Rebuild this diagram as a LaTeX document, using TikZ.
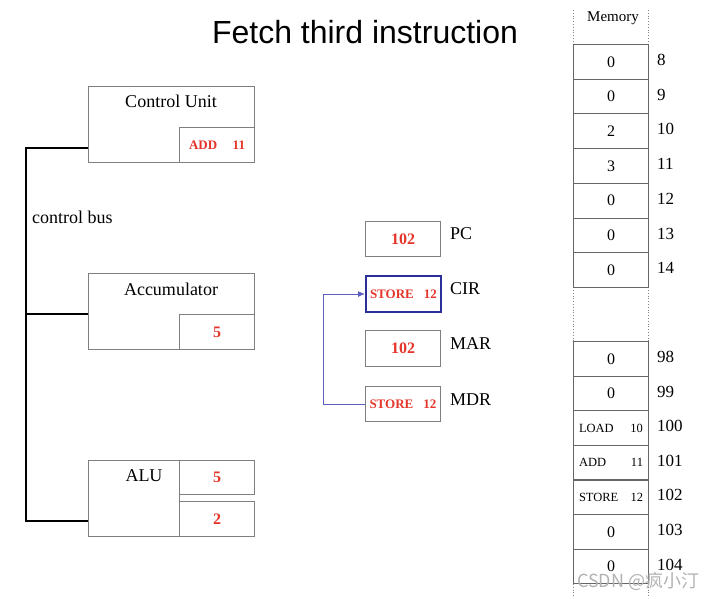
\documentclass[tikz,border=0pt]{standalone}
\usepackage{fontspec}
\setmainfont{Liberation Serif}
\newfontfamily\titlefont{Liberation Sans}
\newfontfamily\cjk{Noto Sans CJK SC}
\usetikzlibrary{arrows.meta}
\definecolor{regred}{HTML}{E5352A}
\definecolor{boxgray}{HTML}{7F7F7F}
\definecolor{cirblue}{HTML}{2B2F9A}
\definecolor{arrowblue}{HTML}{5E5EC0}
\tikzset{
  box/.style={draw=boxgray, line width=1pt, inner sep=0pt, anchor=north west},
  lbl/.style={inner sep=0pt, font=\fontsize{18}{20}\selectfont},
  redval/.style={inner sep=0pt, text=regred, font=\bfseries\fontsize{16}{18}\selectfont},
  redsmall/.style={inner sep=0pt, text=regred, font=\bfseries\fontsize{13}{15}\selectfont},
  memcell/.style={draw=boxgray!80!black, line width=1pt, inner sep=0pt, anchor=north west, minimum width=75pt, minimum height=34.7pt, font=\fontsize{16}{18}\selectfont},
  memsmall/.style={memcell, font=\fontsize{12.5}{14}\selectfont},
  addr/.style={inner sep=0pt, anchor=west, font=\fontsize{17}{19}\selectfont},
  bus/.style={line width=2.3pt, line join=miter},
  guide/.style={draw=gray, line width=0.8pt, dotted}
}
\begin{document}
\begin{tikzpicture}[x=1pt,y=-1pt]
\useasboundingbox (0,0) rectangle (720,598);
\fill[white] (0,0) rectangle (720,598);

% title
\node[inner sep=0pt, font=\titlefont\fontsize{32}{36}\selectfont] (title) at (365,32) {Fetch third instruction};

% Control unit
\node[box, minimum width=166pt, minimum height=76pt] (cu) at (88,86) {};
\node[lbl] (cutxt) at (171,101) {Control Unit};
\node[box, minimum width=75pt, minimum height=35pt] (cuin) at (179,127) {};
\node[redsmall] (cuval) at (cuin.center) {\makebox[56pt]{ADD\hfill 11}};

% Accumulator
\node[box, minimum width=166pt, minimum height=76pt] (acc) at (88,273) {};
\node[lbl] (acctxt) at (171,289) {Accumulator};
\node[box, minimum width=75pt, minimum height=35pt] (accin) at (179,314) {};
\node[redval] (accval) at (accin.center) {5};

% ALU
\node[box, minimum width=91pt, minimum height=76pt] (alu) at (88,460) {};
\node[lbl] (alutxt) at (144,476) {ALU};
\node[box, minimum width=75pt, minimum height=34pt] (alua) at (179,460) {};
\node[redval] (aluaval) at (alua.center) {5};
\node[box, minimum width=75pt, minimum height=35pt] (alub) at (179,501) {};
\node[redval] (alubval) at (alub.center) {2};

% control bus
\coordinate (b1) at (26,148);
\coordinate (b2) at (26,314);
\coordinate (b3) at (26,521);
\draw[bus] (b1 -| cu.west) -- (b1) -- (b3) -- (b3 -| alu.west);
\draw[bus] (b2) -- (b2 -| acc.west);
\node[lbl, anchor=west] (bustxt) at (32,217) {control bus};

% registers
\node[box, minimum width=75pt, minimum height=35pt] (pc) at (365,221) {};
\node[redval] (pcval) at (pc.center) {102};
\node[lbl, anchor=west] (pctxt) at (450,234) {PC};

\node[box, draw=cirblue, line width=2pt, minimum width=75pt, minimum height=36pt] (cir) at (365,275) {};
\node[redsmall] (cirval) at (cir.center) {\makebox[67pt]{STORE\hfill 12}};
\node[lbl, anchor=west] (cirtxt) at (450,289) {CIR};

\node[box, minimum width=75pt, minimum height=36pt] (mar) at (365,330) {};
\node[redval] (marval) at (mar.center) {102};
\node[lbl, anchor=west] (martxt) at (450,344) {MAR};

\node[box, minimum width=75pt, minimum height=35pt] (mdr) at (365,386) {};
\node[redsmall] (mdrval) at (mdr.center) {\makebox[67pt]{STORE\hfill 12}};
\node[lbl, anchor=west] (mdrtxt) at (450,400) {MDR};

\draw[arrowblue, line width=1pt, -{Latex[length=7pt,width=6pt]}] (mdr.west) -- ++(-42,0) |- (cir.west);

% memory
\draw[guide] (573,10) -- (573,598);
\draw[guide] (648,10) -- (648,598);
\node[inner sep=0pt, font=\fontsize{15}{17}\selectfont] (memtxt) at (613,18) {Memory};

\foreach \v/\a [count=\i from 0] in {0/8,0/9,2/10,3/11,0/12,0/13,0/14}{
  \pgfmathsetmacro{\yy}{44+34.7*\i}
  \node[memcell] (m\a) at (573,\yy) {\v};
  \node[addr] (ma\a) at (657,\yy+16) {\a};
}
\foreach \v/\a/\s [count=\i from 0] in {0/98/memcell,0/99/memcell,{\makebox[64pt]{LOAD\hfill 10}}/100/memsmall,{\makebox[64pt]{ADD\hfill 11}}/101/memsmall,{\makebox[64pt]{STORE\hfill 12}}/102/memsmall,0/103/memcell,0/104/memcell}{
  \pgfmathsetmacro{\yy}{341+34.6*\i}
  \node[\s] (m\a) at (573,\yy) {\v};
  \node[addr] (ma\a) at (657,\yy+16) {\a};
}

% watermark
\node[inner sep=0pt, anchor=west, text=gray!60, font=\cjk\fontsize{18}{20}\selectfont] (wm) at (577,581) {CSDN @疯小汀};
\end{tikzpicture}
\end{document}
